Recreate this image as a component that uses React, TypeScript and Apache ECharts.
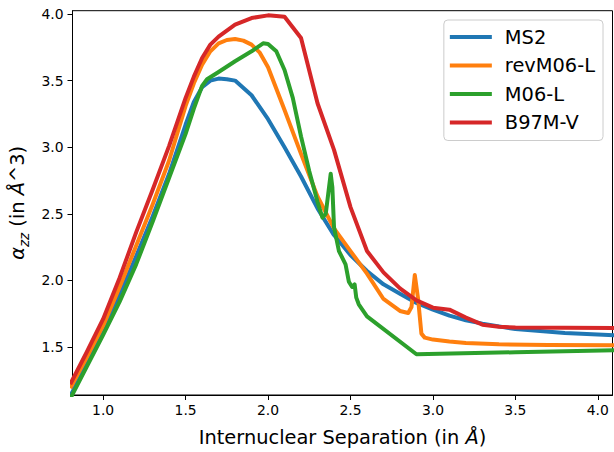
import React, { useEffect, useRef } from "react";
import * as echarts from "echarts";

const seriesNames = ["MS2", "revM06-L", "M06-L", "B97M-V"];
const seriesColors = ["#1f77b4", "#ff7f0e", "#2ca02c", "#d62728"];

const ms2X = [0.8, 0.9, 1.0, 1.1, 1.2, 1.3, 1.4, 1.5, 1.55, 1.6, 1.65, 1.7, 1.75, 1.8, 1.9, 2.0, 2.1, 2.2, 2.3, 2.4, 2.5, 2.6, 2.7, 2.8, 2.9, 3.0, 3.1, 3.2, 3.3, 3.5, 3.8, 4.1];
const ms2Y = [1.13, 1.37, 1.61, 1.89, 2.18, 2.48, 2.8, 3.17, 3.34, 3.45, 3.5, 3.515, 3.51, 3.5, 3.39, 3.21, 3.0, 2.78, 2.54, 2.34, 2.19, 2.07, 1.97, 1.9, 1.83, 1.78, 1.735, 1.7, 1.675, 1.634, 1.605, 1.588];

const revX = [0.8, 0.9, 1.0, 1.1, 1.2, 1.3, 1.4, 1.5, 1.55, 1.6, 1.65, 1.7, 1.75, 1.8, 1.85, 1.9, 1.95, 2.0, 2.1, 2.2, 2.3, 2.4, 2.5, 2.6, 2.7, 2.8, 2.85, 2.87, 2.89, 2.91, 2.93, 2.95, 3.0, 3.1, 3.2, 3.4, 3.7, 4.1];
const revY = [1.19, 1.42, 1.66, 1.95, 2.26, 2.57, 2.9, 3.31, 3.48, 3.62, 3.72, 3.78, 3.805, 3.812, 3.8, 3.77, 3.71, 3.6, 3.28, 2.95, 2.63, 2.39, 2.22, 2.05, 1.86, 1.77, 1.755, 1.8, 2.04, 1.86, 1.6, 1.57, 1.555, 1.54, 1.53, 1.52, 1.515, 1.513];

const m06X = [0.8, 0.9, 1.0, 1.1, 1.2, 1.3, 1.4, 1.5, 1.55, 1.6, 1.63, 1.7, 1.8, 1.9, 1.97, 2.0, 2.05, 2.1, 2.15, 2.2, 2.25, 2.3, 2.33, 2.35, 2.365, 2.38, 2.39, 2.4, 2.43, 2.47, 2.49, 2.51, 2.525, 2.535, 2.55, 2.6, 2.9, 3.5, 4.1];
const m06Y = [1.11, 1.35, 1.59, 1.84, 2.12, 2.44, 2.77, 3.1, 3.29, 3.46, 3.51, 3.565, 3.645, 3.72, 3.78, 3.775, 3.72, 3.58, 3.37, 3.08, 2.82, 2.59, 2.47, 2.5, 2.65, 2.8, 2.7, 2.4, 2.22, 2.12, 1.99, 1.95, 1.97, 1.87, 1.82, 1.73, 1.445, 1.46, 1.475];

const b97X = [0.8, 0.9, 1.0, 1.1, 1.2, 1.3, 1.4, 1.5, 1.55, 1.6, 1.65, 1.7, 1.8, 1.9, 2.0, 2.1, 2.2, 2.3, 2.4, 2.5, 2.6, 2.7, 2.8, 2.9, 3.0, 3.1, 3.2, 3.3, 3.4, 3.5, 4.1];
const b97Y = [1.22, 1.46, 1.71, 2.02, 2.36, 2.68, 3.01, 3.37, 3.53, 3.67, 3.77, 3.83, 3.92, 3.97, 3.99, 3.98, 3.82, 3.33, 2.98, 2.55, 2.22, 2.06, 1.94, 1.85, 1.795, 1.78, 1.72, 1.667, 1.652, 1.645, 1.642];

const xTicks = [1.0, 1.5, 2.0, 2.5, 3.0, 3.5, 4.0];
const yTicks = [1.5, 2.0, 2.5, 3.0, 3.5, 4.0];

const allX = [ms2X, revX, m06X, b97X];
const allY = [ms2Y, revY, m06Y, b97Y];

const FONT = "DejaVu Sans";

export default function App() {
  const ref = useRef<HTMLDivElement>(null);
  useEffect(() => {
    if (!ref.current) return;
    const chart = echarts.init(ref.current, undefined, { renderer: "svg" });
    const series = seriesNames.map((name, i) => ({
      name,
      type: "line",
      data: allX[i].map((x, j) => [x, allY[i][j]]),
      symbol: "none",
      showSymbol: false,
      lineStyle: { color: seriesColors[i], width: 4, join: "round", cap: "butt" },
      itemStyle: { color: seriesColors[i] },
      clip: true,
      z: 2 + i,
    }));
    chart.setOption({
      animation: false,
      backgroundColor: "#ffffff",
      grid: {
        left: 72,
        right: 1.5,
        top: 10.7,
        bottom: 52.7,
        show: true,
        borderColor: "#000",
        borderWidth: 1,
        backgroundColor: "transparent",
      },
      legend: {
        data: seriesNames.map((n) => ({ name: n, icon: "rect" })),
        orient: "vertical",
        right: 11,
        top: 20,
        padding: [7, 8, 8, 6],
        itemWidth: 42,
        itemHeight: 4,
        itemGap: 8.5,
        backgroundColor: "rgba(255,255,255,0.8)",
        borderColor: "#cccccc",
        borderWidth: 1,
        borderRadius: 4,
        textStyle: { fontFamily: FONT, fontSize: 19.4, lineHeight: 20, color: "#000", padding: [0, 0, 0, 8] },
      },
      xAxis: {
        type: "value",
        min: 0.814,
        max: 4.089,
        name: "Internuclear Separation (in {i|Å})",
        nameLocation: "middle",
        nameGap: 33,
        nameTextStyle: {
          fontFamily: FONT,
          fontSize: 19.4,
          color: "#000",
          rich: { i: { fontFamily: FONT, fontSize: 19.4, fontStyle: "italic", color: "#000" } },
        },
        splitLine: { show: false },
        axisLine: { show: true, onZero: false, lineStyle: { color: "#000", width: 1 } },
        axisTick: { show: true, inside: false, length: 5, customValues: xTicks, lineStyle: { color: "#000", width: 1 } },
        axisLabel: {
          customValues: xTicks,
          formatter: (v: number) => v.toFixed(1),
          fontFamily: FONT,
          fontSize: 13.9,
          color: "#000",
          margin: 8,
        },
      },
      yAxis: {
        type: "value",
        min: 1.139,
        max: 4.025,
        name: "{a|α}{s|zz}{n| (in }{a|Å}{n|^3)}",
        nameLocation: "middle",
        nameRotate: 90,
        nameGap: 42,
        nameTextStyle: {
          fontFamily: FONT,
          fontSize: 19.4,
          color: "#000",
          rich: {
            a: { fontFamily: FONT, fontSize: 19.4, fontStyle: "italic", color: "#000", lineHeight: 26, verticalAlign: "middle" },
            s: { fontFamily: FONT, fontSize: 13.6, fontStyle: "italic", color: "#000", lineHeight: 26, verticalAlign: "bottom" },
            n: { fontFamily: FONT, fontSize: 19.4, color: "#000", lineHeight: 26, verticalAlign: "middle" },
          },
        },
        splitLine: { show: false },
        axisLine: { show: true, onZero: false, lineStyle: { color: "#000", width: 1 } },
        axisTick: { show: true, inside: false, length: 5, customValues: yTicks, lineStyle: { color: "#000", width: 1 } },
        axisLabel: {
          customValues: yTicks,
          formatter: (v: number) => v.toFixed(1),
          fontFamily: FONT,
          fontSize: 13.9,
          color: "#000",
          margin: 9,
        },
      },
      series,
    });
    return () => chart.dispose();
  }, []);
  return (
    <div
      ref={ref}
      style={{ position: "fixed", left: 0, top: 0, width: 614, height: 452, background: "#fff" }}
    />
  );
}
